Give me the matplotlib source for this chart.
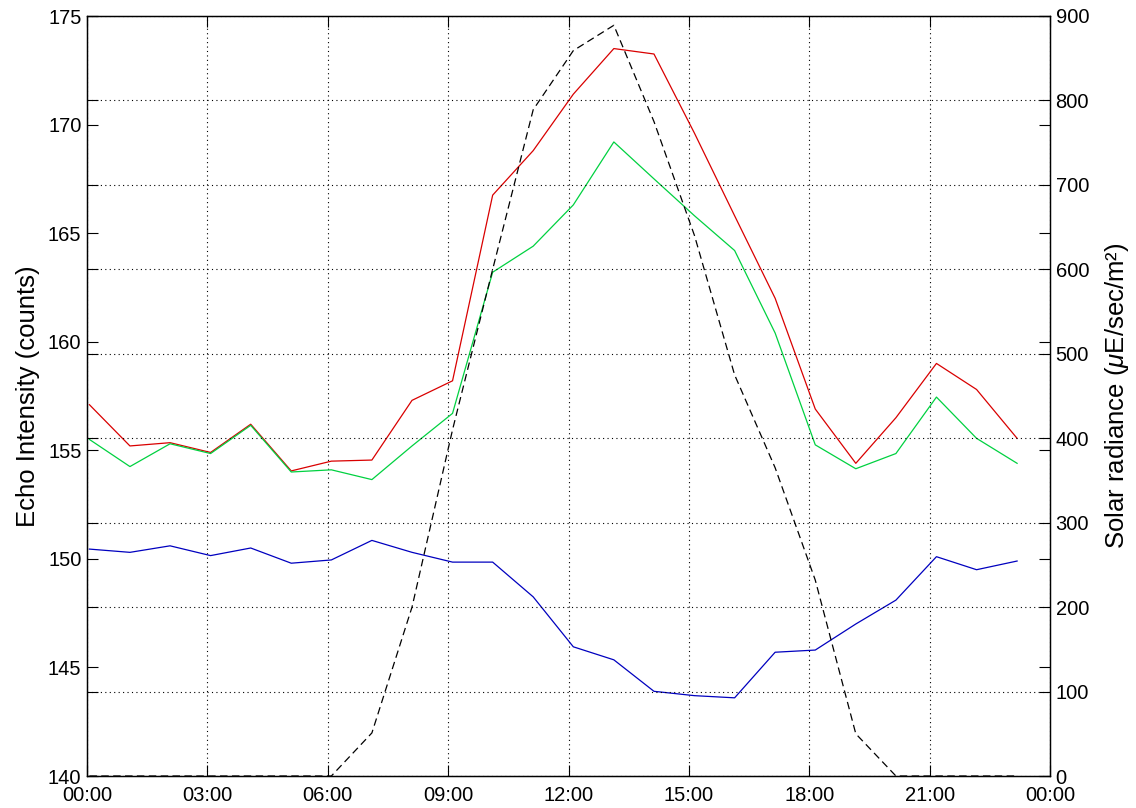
import numpy as np
import matplotlib.pyplot as plt

plt.rcParams['font.family'] = ['Liberation Sans', 'DejaVu Sans']
plt.rcParams['mathtext.fontset'] = 'custom'
plt.rcParams['mathtext.it'] = 'Liberation Sans:italic'
plt.rcParams['mathtext.rm'] = 'Liberation Sans'

# sample times in hours since midnight
hours = [0.06, 1.07, 2.07, 3.08, 4.08, 5.09, 6.09, 7.10, 8.10, 9.11, 10.11, 11.12,
         12.12, 13.13, 14.13, 15.14, 16.14, 17.15, 18.15, 19.16, 20.16, 21.17, 22.17, 23.18]

echo_red = [157.1, 155.2, 155.35, 154.9, 156.2, 154.05, 154.5, 154.55, 157.3, 158.2, 166.75, 168.8,
            171.4, 173.5, 173.25, 169.6, 165.8, 162.0, 156.9, 154.4, 156.5, 159.0, 157.8, 155.55]
echo_green = [155.5, 154.25, 155.3, 154.85, 156.15, 154.0, 154.1, 153.65, 155.2, 156.7, 163.2, 164.4,
              166.3, 169.2, 167.5, 165.8, 164.2, 160.4, 155.25, 154.15, 154.85, 157.45, 155.55, 154.4]
echo_blue = [150.45, 150.3, 150.6, 150.15, 150.5, 149.8, 149.95, 150.85, 150.3, 149.85, 149.85, 148.25,
             145.95, 145.35, 143.9, 143.7, 143.6, 145.7, 145.8, 147.0, 148.1, 150.1, 149.5, 149.9]
solar = [0, 0, 0, 0, 0, 0, 0, 51, 200, 410, 600, 789,
         859, 889, 775, 640, 475, 365, 232, 50, 0, 0, 0, 0]

tick_hours = [0, 3, 6, 9, 12, 15, 18, 21, 24]
tick_labels = ['00:00', '03:00', '06:00', '09:00', '12:00', '15:00', '18:00', '21:00', '00:00']

fig = plt.figure(figsize=(11.36, 8.08), dpi=100)
ax = fig.add_axes([87/1136, 32/808, 963/1136, 760/808])
ax2 = ax.twinx()

ax.plot(hours, echo_red, color=(0.85, 0, 0), lw=0.9)
ax.plot(hours, echo_green, color=(0, 0.82, 0.25), lw=0.9)
ax.plot(hours, echo_blue, color=(0, 0, 0.75), lw=0.9)
ax2.plot(hours, solar, color='black', lw=0.9, dashes=(6, 3.5))

ax.set_xlim(0, 24)
ax.set_ylim(140, 175)
ax2.set_ylim(0, 900)
ax.set_xticks(tick_hours)
ax.set_xticklabels(tick_labels)
ax.set_yticks(np.arange(140, 176, 5))
ax2.set_yticks(np.arange(0, 901, 100))

ax.grid(axis='x', linestyle=(0, (1, 3)), color='black', lw=0.8)
ax2.grid(axis='y', linestyle=(0, (1, 3)), color='black', lw=0.8)

ax.tick_params(direction='in', length=8, width=0.8, labelsize=14.5, top=True, right=True, pad=4)
ax.tick_params(axis='x', pad=7)
ax2.tick_params(direction='in', length=8, width=0.8, labelsize=14.5, left=True, pad=4)

for a in (ax, ax2):
    for s in a.spines.values():
        s.set_linewidth(0.9)

ax.set_ylabel('Echo Intensity (counts)', fontsize=18.5, labelpad=6)
ax2.set_ylabel(r'Solar radiance ($\mu$E/sec/m²)', fontsize=18.5, labelpad=10)

fig.savefig('out.png', dpi=100)
